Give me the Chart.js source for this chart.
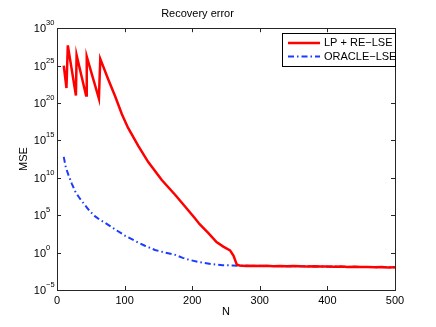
<!DOCTYPE html>
<html>
<head>
<meta charset="utf-8">
<script src="https://cdn.jsdelivr.net/npm/chart.js@4"></script>
<style>
html, body { margin: 0; padding: 0; background: #fff; }
#wrap { width: 436px; height: 327px; }
</style>
</head>
<body>
<div id="wrap"><canvas id="chart"></canvas></div>
<script>
const chartTitle = 'Recovery error'
const xTitle = 'N'
const yTitle = 'MSE'
const seriesNames = ['LP + RE\u2212LSE', 'ORACLE\u2212LSE']

// x ticks and y tick exponents (log10 MSE)
const xTicks = [0, 100, 200, 300, 400, 500]
const yTickExps = [-5, 0, 5, 10, 15, 20, 25, 30]

// shared flat tail (N)
const tailN = [270, 280, 290, 300, 310, 320, 330, 340, 350, 360, 370, 380,
  390, 400, 410, 420, 430, 440, 450, 460, 470, 480, 490, 500]

// LP + RE-LSE, values are log10(MSE)
const lpN = [10, 14, 16, 28, 29, 43, 44, 62, 64, 76, 86, 96, 105, 120, 135, 155, 175,
  190, 204, 211, 224, 236, 246, 256, 261, 266]
const lpExp = [25, 22, 27.7, 21, 26.4, 21, 26.2, 20.6, 25.9, 23.1, 20.9, 18.5, 16.7, 14.3, 12.1, 9.7, 7.7,
  6.1, 4.6, 3.8, 2.6, 1.4, 0.8, 0.3, -0.4, -1.6]
const lpTail = [-1.72, -1.78, -1.75, -1.8, -1.77, -1.82, -1.78, -1.83, -1.8, -1.84, -1.86, -1.82,
  -1.87, -1.85, -1.89, -1.87, -1.92, -1.89, -1.93, -1.91, -1.95, -1.93, -1.98, -1.96]

// ORACLE-LSE, values are log10(MSE)
const orN = [10, 13, 17, 22, 27, 34, 41, 48, 56, 63, 71, 86, 101, 115, 130, 145, 160,
  175, 186, 197, 212, 230, 245, 260]
const orExp = [12.8, 11.4, 10.35, 9.2, 8.15, 7.2, 6.4, 5.6, 4.87, 4.4, 4.0, 3.1, 2.24, 1.58, 0.92, 0.35, 0,
  -0.3, -0.7, -1.0, -1.3, -1.55, -1.68, -1.72]
const orTail = [-1.76, -1.74, -1.79, -1.77, -1.81, -1.79, -1.8, -1.83, -1.8, -1.84, -1.83, -1.86,
  -1.84, -1.88, -1.86, -1.89, -1.91, -1.9, -1.92, -1.91, -1.95, -1.93, -1.96, -1.95]

const toPoints = (ns, es) => ns.map((n, i) => ({ x: n, y: Math.pow(10, es[i]) }))

const FONT = "'Liberation Sans', Arial, sans-serif"

const decor = {
  id: 'decor',
  afterDraw(chart) {
    const { ctx, chartArea: a, scales: { x, y } } = chart
    ctx.save()
    ctx.strokeStyle = '#262626'
    ctx.lineWidth = 1
    ctx.strokeRect(Math.round(a.left) + 0.5, Math.round(a.top) + 0.5,
      Math.round(a.right - a.left), Math.round(a.bottom - a.top))
    // inward ticks
    ctx.beginPath()
    xTicks.forEach(t => {
      const px = Math.round(x.getPixelForValue(t)) + 0.5
      ctx.moveTo(px, a.bottom); ctx.lineTo(px, a.bottom - 4)
      ctx.moveTo(px, a.top); ctx.lineTo(px, a.top + 4)
    })
    yTickExps.forEach(e => {
      const py = Math.round(y.getPixelForValue(Math.pow(10, e))) + 0.5
      ctx.moveTo(a.left, py); ctx.lineTo(a.left + 4, py)
      ctx.moveTo(a.right, py); ctx.lineTo(a.right - 4, py)
    })
    ctx.stroke()
    // y tick labels 10^e
    ctx.fillStyle = '#000'
    yTickExps.forEach(e => {
      const py = y.getPixelForValue(Math.pow(10, e))
      ctx.font = '11px ' + FONT
      ctx.textAlign = 'right'
      ctx.textBaseline = 'middle'
      ctx.fillText('10', a.left - 11, py + 1)
      ctx.font = '7.5px ' + FONT
      ctx.textAlign = 'left'
      ctx.fillText(String(e).replace('-', '\u2212'), a.left - 11, py - 5)
    })
    // x axis title
    ctx.font = '11px ' + FONT
    ctx.textAlign = 'center'
    ctx.textBaseline = 'middle'
    ctx.fillText(xTitle, (a.left + a.right) / 2, 312)
    // legend box
    const w = 113, h = 33
    const bx = Math.round(a.right) - w, by = Math.round(a.top) + 5
    ctx.fillStyle = '#fff'
    ctx.fillRect(bx, by, w, h)
    ctx.strokeStyle = '#000'
    ctx.strokeRect(bx + 0.5, by + 0.5, w, h)
    chart.data.datasets.forEach((ds, i) => {
      const ly = by + 10 + i * 13.5
      ctx.beginPath()
      ctx.strokeStyle = ds.borderColor
      ctx.lineWidth = ds.borderWidth
      ctx.setLineDash(ds.borderDash || [])
      ctx.moveTo(bx + 6, ly); ctx.lineTo(bx + 38, ly)
      ctx.stroke()
      ctx.setLineDash([])
      ctx.fillStyle = '#000'
      ctx.font = '11px ' + FONT
      ctx.textAlign = 'left'
      ctx.textBaseline = 'middle'
      ctx.fillText(ds.label, bx + 42, ly)
    })
    ctx.restore()
  }
}

new Chart(document.getElementById('chart'), {
  type: 'line',
  data: {
    datasets: [
      {
        label: seriesNames[0],
        data: toPoints(lpN.concat(tailN), lpExp.concat(lpTail)),
        borderColor: '#ff0000',
        borderWidth: 2.5,
        pointRadius: 0,
        tension: 0
      },
      {
        label: seriesNames[1],
        data: toPoints(orN.concat(tailN), orExp.concat(orTail)),
        borderColor: '#1a3cff',
        borderWidth: 2,
        borderDash: [6, 3, 1.5, 3],
        pointRadius: 0,
        tension: 0
      }
    ]
  },
  options: {
    responsive: true,
    maintainAspectRatio: false,
    animation: false,
    layout: { padding: { left: 0, right: 41, top: 0, bottom: 0 } },
    plugins: {
      legend: { display: false },
      tooltip: { enabled: false },
      title: {
        display: true,
        text: chartTitle,
        color: '#000',
        font: { family: FONT, size: 11, weight: 'normal' },
        padding: { top: 7, bottom: 8 }
      }
    },
    scales: {
      x: {
        type: 'linear',
        min: 0,
        max: 500,
        afterBuildTicks: s => { s.ticks = xTicks.map(v => ({ value: v })) },
        afterFit: s => { s.height = 37 },
        ticks: { color: '#000', font: { family: FONT, size: 11 }, padding: 4, maxRotation: 0 },
        grid: { display: false, drawTicks: false },
        border: { display: false }
      },
      y: {
        type: 'logarithmic',
        min: 1e-5,
        max: 1e30,
        afterBuildTicks: s => { s.ticks = yTickExps.map(e => ({ value: Math.pow(10, e) })) },
        afterFit: s => { s.width = 57 },
        ticks: { display: false },
        grid: { display: false, drawTicks: false },
        border: { display: false },
        title: {
          display: true, text: yTitle, color: '#000',
          font: { family: FONT, size: 11 }, padding: { top: 17, bottom: 0 }
        }
      }
    }
  },
  plugins: [decor]
})
</script>
</body>
</html>
